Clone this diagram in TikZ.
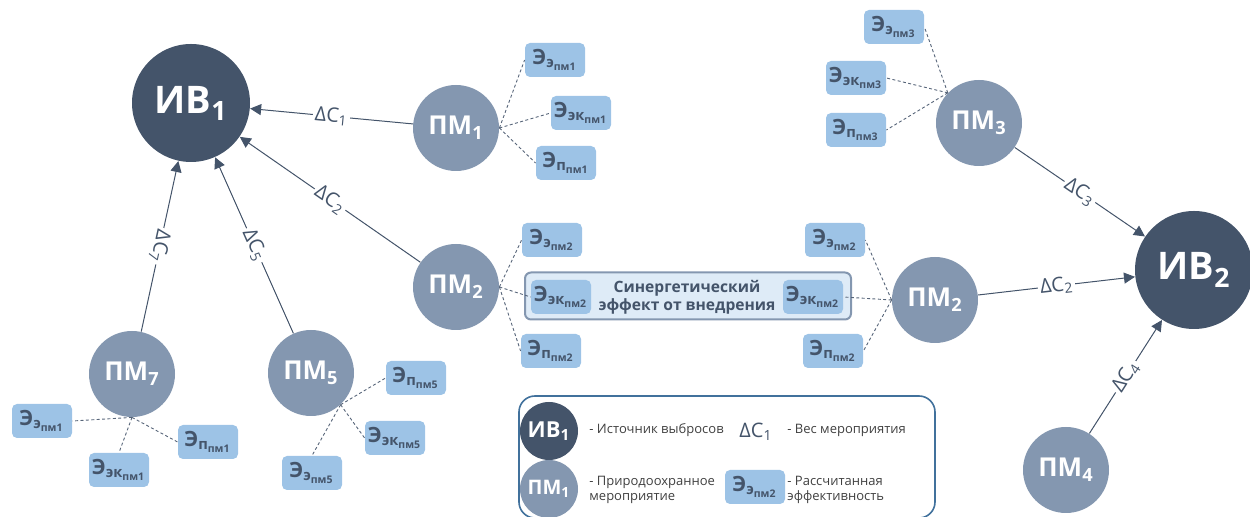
\documentclass[tikz,border=0pt]{standalone}
\usepackage{amsmath}
\usepackage{fontspec}
\setmainfont{Open Sans}
\usepackage{xcolor}
\usepackage{tikz}
\usetikzlibrary{arrows.meta}

\definecolor{ivcol}{HTML}{44546A}
\definecolor{pmcol}{HTML}{8497B0}
\definecolor{effcol}{HTML}{9DC3E6}
\definecolor{syncol}{HTML}{DEEBF7}
\definecolor{legcol}{HTML}{41719C}

\newcommand{\lowidx}[1]{$_{\text{#1}}$}
\newcommand{\eff}[2]{Э$_{\text{#1}_{\text{#2}}}$}

\begin{document}
\begin{tikzpicture}[x=0.5pt, y=-0.5pt,
  iv/.style={circle, fill=ivcol, inner sep=0pt, minimum size=59pt, text=white, font=\bfseries\fontsize{19}{19}\selectfont},
  pm/.style={circle, fill=pmcol, inner sep=0pt, minimum size=43pt, text=white, font=\bfseries\fontsize{13}{13}\selectfont},
  eff/.style={rectangle, rounded corners=2.5pt, fill=effcol, inner sep=0pt, minimum width=30pt, minimum height=17pt, text=ivcol, font=\bfseries\fontsize{10.5}{10.5}\selectfont},
  syn/.style={rectangle, rounded corners=3pt, fill=syncol, draw=pmcol, line width=1pt, minimum width=163pt, minimum height=23.5pt},
  syntext/.style={align=center, inner sep=0pt, text=ivcol, font=\bfseries\fontsize{7.8}{9.2}\selectfont},
  link/.style={ivcol, line width=0.5pt},
  back/.style={{Triangle[length=5.5pt,width=5.5pt]}-},
  fwd/.style={-{Triangle[length=5.5pt,width=5.5pt]}},
  wlbl/.style={fill=white, inner sep=1pt, sloped, allow upside down, text=ivcol, font=\fontsize{10}{10}\selectfont},
  dotline/.style={ivcol!90, line width=0.45pt, dash pattern=on 1.5pt off 1.2pt},
  legbox/.style={rectangle, rounded corners=8pt, draw=legcol, line width=0.8pt, fill=white, minimum width=208pt, minimum height=61pt},
  legtxt/.style={anchor=west, align=left, inner sep=0pt, text=black!75, font=\fontsize{6.5}{7.5}\selectfont}]

  \useasboundingbox (0,0) rectangle (1250,517);

  % sources
  \node[iv] (iv1) at (191,103) {ИВ\lowidx{1}};
  \node[iv] (iv2) at (1194,270) {ИВ\lowidx{2}};

  % measures
  \node[pm] (pm1) at (456,128) {ПМ\lowidx{1}};
  \node[pm] (pm2a) at (456,287) {ПМ\lowidx{2}};
  \node[pm] (pm2b) at (935,300) {ПМ\lowidx{2}};
  \node[pm] (pm3) at (979,123) {ПМ\lowidx{3}};
  \node[pm] (pm4) at (1066,470) {ПМ\lowidx{4}};
  \node[pm] (pm5) at (311,373) {ПМ\lowidx{5}};
  \node[pm] (pm7) at (132,374) {ПМ\lowidx{7}};

  % effects
  \node[eff] (e1a) at (555,60) {\eff{э}{пм1}};
  \node[eff] (e1b) at (581,113) {\eff{эк}{пм1}};
  \node[eff] (e1c) at (566,163) {\eff{п}{пм1}};
  \node[syn] (syn) at (688,296) {};
  \node[eff] (e2a) at (552,240) {\eff{э}{пм2}};
  \node[eff] (e2b) at (561,297) {\eff{эк}{пм2}};
  \node[eff] (e2c) at (551,351) {\eff{п}{пм2}};
  \node[syntext] (syntxt) at (687,297) {Синергетический\\эффект от внедрения};
  \node[eff] (e2d) at (835,240) {\eff{э}{пм2}};
  \node[eff] (e2e) at (813,297) {\eff{эк}{пм2}};
  \node[eff] (e2f) at (833,351) {\eff{п}{пм2}};
  \node[eff] (e3a) at (894,27) {\eff{э}{пм3}};
  \node[eff] (e3b) at (856,78) {\eff{эк}{пм3}};
  \node[eff] (e3c) at (856,130) {\eff{п}{пм3}};
  \node[eff] (e7a) at (42,421) {\eff{э}{пм1}};
  \node[eff] (e7b) at (119,470) {\eff{эк}{пм1}};
  \node[eff] (e7c) at (208,442) {\eff{п}{пм1}};
  \node[eff] (e5a) at (416,378) {\eff{п}{пм5}};
  \node[eff] (e5b) at (395,438) {\eff{эк}{пм5}};
  \node[eff] (e5c) at (312,473) {\eff{э}{пм5}};

  % dashed ties
  \foreach \b in {e1a,e1b,e1c} \draw[dotline] (pm1.east) -- (\b.west);
  \foreach \b in {e2a,e2b,e2c} \draw[dotline] (pm2a.east) -- (\b.west);
  \foreach \b in {e2d,e2e,e2f} \draw[dotline] (pm2b.west) -- (\b.east);
  \foreach \b in {e3a,e3b,e3c} \draw[dotline] (pm3.136) -- (\b.east);
  \draw[dotline] (pm7.south) -- (e7a.east);
  \draw[dotline] (pm7.south) -- (e7b.north);
  \draw[dotline] (pm7.south) -- (e7c.west);
  \draw[dotline] (pm5.-47) -- (e5a.west);
  \draw[dotline] (pm5.-47) -- (e5b.west);
  \draw[dotline] (pm5.-47) -- (e5c.north);

  % weights
  \draw[link, back] (iv1) -- node[wlbl]{ΔC\lowidx{1}} (pm1);
  \draw[link, back] (iv1) -- node[wlbl]{ΔC\lowidx{2}} (pm2a);
  \draw[link, back] (iv1) -- node[wlbl]{ΔC\lowidx{5}} (pm5);
  \draw[link, back] (iv1) -- node[wlbl]{ΔC\lowidx{7}} (pm7);
  \draw[link, fwd] (pm3) -- node[wlbl]{ΔC\lowidx{3}} (iv2);
  \draw[link, fwd] (pm2b) -- node[wlbl]{ΔC\lowidx{2}} (iv2);
  \draw[link, fwd] (pm4) -- node[wlbl]{ΔC\lowidx{4}} (iv2);

  % legend
  \node[legbox] (leg) at (727,457) {};
  \node[iv, minimum size=29pt, font=\bfseries\fontsize{11}{11}\selectfont] (legiv) at (549,431) {ИВ\lowidx{1}};
  \node[pm, minimum size=29pt, font=\bfseries\fontsize{10}{10}\selectfont] (legpm) at (549,489) {ПМ\lowidx{1}};
  \node[legtxt] (legivtxt) at (589,430) {- Источник выбросов};
  \node[legtxt] (legpmtxt) at (589,490) {- Природоохранное\\мероприятие};
  \node[text=ivcol, font=\fontsize{10}{10}\selectfont] (legdc) at (756,432) {ΔC\lowidx{1}};
  \node[legtxt] (legdctxt) at (787,430) {- Вес мероприятия};
  \node[eff] (legeff) at (755,487) {\eff{э}{пм2}};
  \node[legtxt] (legefftxt) at (787,490) {- Рассчитанная\\эффективность};
\end{tikzpicture}
\end{document}
